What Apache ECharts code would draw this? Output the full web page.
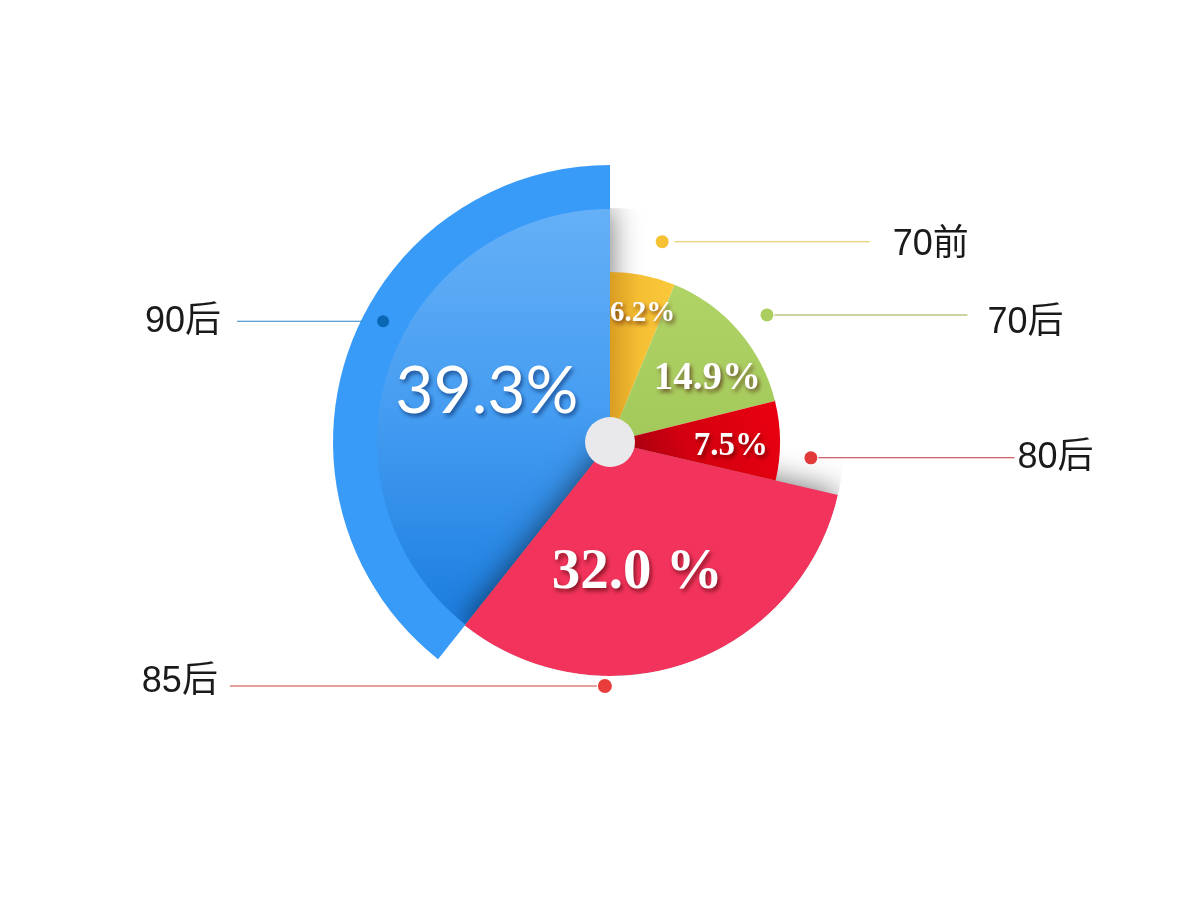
<!DOCTYPE html>
<html><head><meta charset="utf-8">
<script src="https://cdn.jsdelivr.net/npm/echarts@6/dist/echarts.min.js"></script>
<style>html,body{margin:0;padding:0;background:#fff}#c{width:1200px;height:900px}</style>
</head><body><div id="c"></div>
<script>
// ---------- data ----------
const categories = ['70前', '70后', '80后', '85后', '90后'];
const values = [6.2, 14.9, 7.5, 32.0, 39.3];
const pctSuffix = ['%', '%', '%', ' %', '%'];

// ---------- layout / style ----------
const CX = 610, CY = 442;
const R_SMALL = 170, R_MID = 234, R_OUTER = 277, R_HUB = 25;
const PCT_RADIUS = [133, 116, 121, 134, 133];
const PCT_ANGLE_SHIFT = [3, 8, 2.5, 7.5, 3];
const PCT_FONT = [29, 39, 33, 57, 66];
const ANCHOR = [[14.6, 207], [51, 202], [94.5, 201.5], [181.2, 244], [298, 257]];
const SIDE = ['right', 'right', 'right', 'left', 'left'];
const DOT_R = [6.5, 6.5, 6.5, 7, 6];
const LINE_LEN = [195, 193, 196, 367, 125];
const GAP_DOT = [6, 1, 1, 1, 15];
const GAP_TEXT = [23, 20, 3, 12, 16];
const TEXT_DY = [3, 8, 0, -4, 1];
const DOT_COLOR = ['#f7c136', '#aacf60', '#e23a3a', '#e93d3b', '#0a67b4'];
const LINE_COLOR = ['#e6c24a', '#98a83e', '#c4333a', '#c9443f', '#2a82c6'];
const NONE = 'rgba(0,0,0,0)';

const total = values.reduce((a, b) => a + b, 0);
let acc = 0;
const midAngle = values.map(v => { const m = (acc + v / 2) / total * 360; acc += v; return m; });
const polar = (ang, r) => { const a = ang * Math.PI / 180; return [CX + r * Math.sin(a), CY - r * Math.cos(a)]; };

const lin = (x, y, x2, y2, stops) => ({ type: 'linear', x, y, x2, y2, colorStops: stops.map(s => ({ offset: s[0], color: s[1] })) });
const SLICE_STYLE = [
  { color: lin(0, 0, 1, 0, [[0, '#d99d22'], [0.45, '#f5bf34'], [1, '#fbc93c']]) },
  { color: lin(0, 0, 0, 1, [[0, '#b0d366'], [1, '#a3c95b']]) },
  { color: lin(1, 0, 0, 1, [[0, '#ea0010'], [0.55, '#d3000f'], [1, '#8f0012']]) },
  { color: '#f2335b', shadowBlur: 30, shadowColor: 'rgba(0,0,0,0.58)' },
  { color: lin(0, 0, 0, 1, [[0, '#65b0f7'], [0.5, '#449cf1'], [1, '#1b7ddf']]), shadowBlur: 30, shadowColor: 'rgba(0,0,0,0.58)' }
];

function layer(radius, styleFn, extra) {
  return Object.assign({
    type: 'pie', center: [CX, CY], radius: radius, startAngle: 90, clockwise: true,
    silent: true, animation: false, avoidLabelOverlap: false,
    label: { show: false }, labelLine: { show: false }, emphasis: { disabled: true },
    data: categories.map((c, i) => ({ name: c, value: values[i], itemStyle: Object.assign({ borderWidth: 0 }, styleFn(i) || { color: NONE }) }))
  }, extra || {});
}

const series = [
  layer([0, R_MID], i => i === 4 ? SLICE_STYLE[4] : null),
  layer([0, R_MID], i => i === 3 ? SLICE_STYLE[3] : null),
  layer([R_MID, R_OUTER + 60], i => i < 4 ? { color: '#ffffff' } : null),
  layer([R_MID - 1, R_OUTER], i => i === 4 ? { color: '#399bf8' } : null),
  layer([0, R_SMALL], i => i < 3 ? SLICE_STYLE[i] : null),
  { type: 'pie', center: [CX, CY], radius: [0, R_HUB], silent: true, animation: false,
    label: { show: false }, labelLine: { show: false },
    data: [{ value: 1, itemStyle: { color: '#e9e9eb', borderWidth: 0 } }] }
];

// percent labels
const pctLayer = layer([0, R_OUTER], () => null);
pctLayer.label = { show: true, position: 'inside', overflow: 'none' };
pctLayer.data.forEach((d, i) => {
  const sans = i === 4;
  d.label = {
    show: true,
    formatter: values[i].toFixed(1) + pctSuffix[i],
    color: '#ffffff',
    fontSize: PCT_FONT[i],
    fontFamily: sans ? 'Lato, "Open Sans", sans-serif' : '"Liberation Serif", "Times New Roman", serif',
    fontWeight: sans ? 'normal' : 'bold',
    textShadowColor: sans ? 'rgba(0,30,90,0.6)' : 'rgba(60,0,0,0.6)',
    textShadowBlur: 4, textShadowOffsetX: 2, textShadowOffsetY: 3
  };
});
pctLayer.labelLayout = p => {
  const i = p.dataIndex;
  const pt = polar(midAngle[i] + PCT_ANGLE_SHIFT[i], PCT_RADIUS[i]);
  return { x: pt[0], y: pt[1], align: 'center', verticalAlign: 'middle' };
};
series.push(pctLayer);

// category annotations (dot + leader line + name)
const annLayer = layer([0, R_OUTER], () => null);
annLayer.label = { show: true, position: 'inside', overflow: 'none' };
annLayer.data.forEach((d, i) => {
  const dy = TEXT_DY[i];
  const rich = {
    dot: { width: DOT_R[i] * 2, height: DOT_R[i] * 2, borderRadius: DOT_R[i], backgroundColor: DOT_COLOR[i] },
    gd: { width: GAP_DOT[i], height: 1 },
    ln: { width: LINE_LEN[i], height: 1, backgroundColor: LINE_COLOR[i] },
    gt: { width: GAP_TEXT[i], height: 1 },
    t: { fontSize: 36, color: '#1a1a1a', fontFamily: '"Liberation Sans", "Noto Sans CJK SC", sans-serif',
         padding: dy >= 0 ? [2 * dy, 0, 0, 0] : [0, 0, -2 * dy, 0] }
  };
  d.label = {
    show: true,
    formatter: SIDE[i] === 'right' ? '{dot|}{gd|}{ln|}{gt|}{t|' + categories[i] + '}' : '{t|' + categories[i] + '}{gt|}{ln|}{gd|}{dot|}',
    rich: rich
  };
});
annLayer.labelLayout = p => {
  const i = p.dataIndex;
  const pt = polar(ANCHOR[i][0], ANCHOR[i][1]);
  if (SIDE[i] === 'right') return { x: pt[0] - DOT_R[i], y: pt[1], align: 'left', verticalAlign: 'middle' };
  return { x: pt[0] + DOT_R[i], y: pt[1], align: 'right', verticalAlign: 'middle' };
};
series.push(annLayer);

const chart = echarts.init(document.getElementById('c'));
chart.setOption({ backgroundColor: '#ffffff', animation: false, series: series });
</script>
</body></html>
